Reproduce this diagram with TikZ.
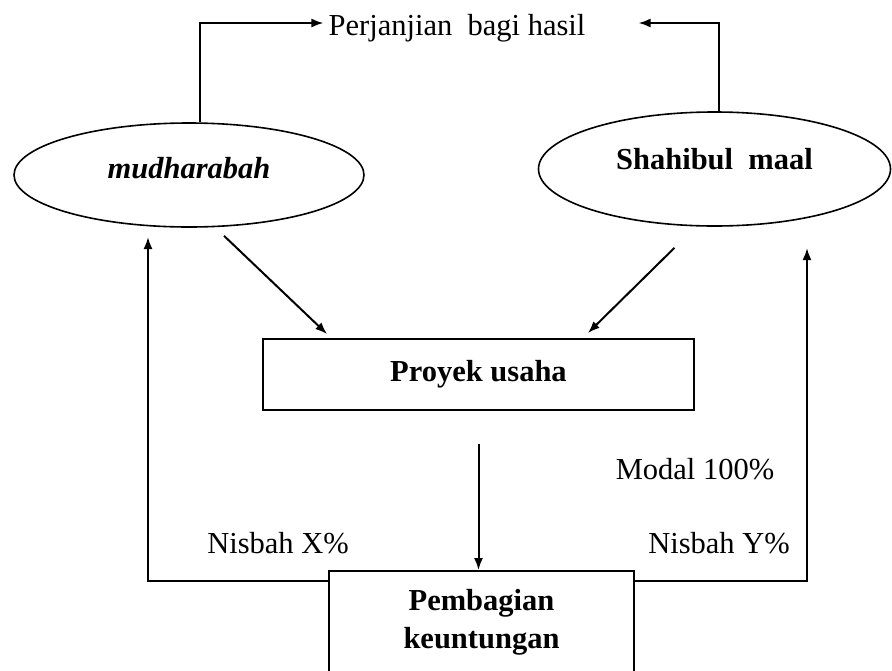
\documentclass[tikz,border=0pt]{standalone}
\usepackage{fontspec}
\setmainfont{Liberation Serif}
\usetikzlibrary{shapes.geometric,arrows.meta}
\tikzset{
  oval/.style={ellipse,draw,line width=1.6pt,inner sep=0pt},
  kotak/.style={rectangle,draw,line width=1.8pt,inner sep=0pt,align=center},
  teks/.style={font=\fontsize{30.5}{38}\selectfont},
  garis/.style={line width=2pt,->},
}
\begin{document}
\begin{tikzpicture}[x=1pt,y=-1pt,>={Latex[length=12pt,width=9pt]}]
    \useasboundingbox (0,0) rectangle (892,670);
    \clip (0,0) rectangle (892,670);
    \node[oval,teks,minimum width=350pt,minimum height=104pt,text depth=15pt](mud)at(189,175){\bfseries\itshape mudharabah};
    \node[oval,teks,minimum width=352pt,minimum height=114pt,text depth=20pt](sm)at(714.5,169){\bfseries Shahibul\ \ maal};
    \node[teks,inner sep=3pt](pj)at(457,28){Perjanjian\ \ bagi hasil};
    \node[kotak,teks,minimum width=431pt,minimum height=71pt](pu)at(478.5,374.5){\bfseries Proyek usaha};
    \node[kotak,teks,minimum width=305pt,minimum height=102pt](pb)at(481.5,622){\bfseries Pembagian\\\bfseries keuntungan};
    \node[teks](mo)at(695,469.5){Modal 100\%};
    \node[teks](nx)at(278,543){Nisbah X\%};
    \node[teks](ny)at(719,543){Nisbah Y\%};
    \coordinate (kiri) at (148,237);
    \coordinate (kanan) at (807,248);
    % perjanjian
    \draw[garis]([xshift=11pt]mud.north)|-([xshift=-2pt,yshift=5pt]pj.west);
    \draw[garis]([xshift=4.5pt]sm.north)|-([xshift=50pt,yshift=5pt]pj.east);
    % ke proyek
    \draw[garis]([xshift=35pt,yshift=-8pt]mud.south)--([xshift=65pt,yshift=4pt]pu.north west);
    \draw[garis]([xshift=-40pt,yshift=-21pt]sm.south)--([xshift=-107pt,yshift=5pt]pu.north east);
    \draw[garis]([yshift=-33pt]pu.south)--(pu.south|-pb.north);
    % nisbah
    \draw[garis]([yshift=41pt]pb.west)-|(kiri);
    \draw[garis]([yshift=41pt]pb.east)-|(kanan);
\end{tikzpicture}
\end{document}
